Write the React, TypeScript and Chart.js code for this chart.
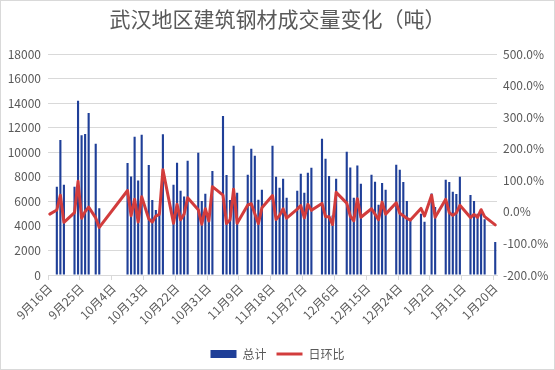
import React, { useEffect, useRef } from 'react';
import { Chart, registerables } from 'chart.js';

Chart.register(...registerables);

const FONT = "'Noto Sans CJK SC', 'Noto Sans', sans-serif";
const TEXT = '#595959';
const GRID = '#D9D9D9';
const BAR_COLOR = '#1F3F98';
const LINE_COLOR = '#D23C3C';

const TITLE = '武汉地区建筑钢材成交量变化（吨）';
const SERIES_TOTAL = '总计';
const SERIES_RATIO = '日环比';

// Date axis: one slot per calendar day, 2019-09-16 .. 2020-01-20
const AXIS_START = { y: 2019, m: 8, d: 16 };
const AXIS_DAYS = 127;
const TICK_EVERY = 9;

// Trading days
const pointDates = [
  '9月16日', '9月18日', '9月19日', '9月20日', '9月23日', '9月24日', '9月25日', '9月26日', '9月27日', '9月29日', '9月30日',
  '10月8日', '10月9日', '10月10日', '10月11日', '10月12日', '10月14日', '10月15日', '10月16日', '10月17日', '10月18日',
  '10月21日', '10月22日', '10月23日', '10月24日', '10月25日', '10月28日', '10月29日', '10月30日', '10月31日', '11月1日',
  '11月4日', '11月5日', '11月6日', '11月7日', '11月8日', '11月11日', '11月12日', '11月13日', '11月14日', '11月15日',
  '11月18日', '11月19日', '11月20日', '11月21日', '11月22日', '11月25日', '11月26日', '11月27日', '11月28日', '11月29日',
  '12月2日', '12月3日', '12月4日', '12月5日', '12月6日', '12月9日', '12月10日', '12月11日', '12月12日', '12月13日',
  '12月16日', '12月17日', '12月18日', '12月19日', '12月20日', '12月23日', '12月24日', '12月25日', '12月26日', '12月27日',
  '12月30日', '12月31日', '1月2日', '1月3日', '1月6日', '1月7日', '1月8日', '1月9日', '1月10日',
  '1月13日', '1月14日', '1月15日', '1月16日', '1月17日', '1月20日',
];

const totals: (number | null)[] = [
  null, 7200, 11000, 7350, 7200, 14200, 11400, 11500, 13200, 10700, 5450,
  9130, 8030, 11280, 7700, 11430, 8970, 6120, 5300, 4900, 11480,
  7350, 9150, 6860, 6400, 9310, 9970, 6040, 6620, 4700, 8480,
  12970, 8160, 6120, 10540, 6700, 8170, 10290, 9720, 6130, 6940,
  10540, 8000, 7120, 7840, 6290, 6860, 8250, 6700, 8330, 8740,
  11100, 9470, 8080, 4850, 7850, 10050, 8760, 6300, 8920, 7440,
  8170, 7610, 5720, 7500, 6950, 8980, 8580, 7590, 6040, 4490,
  5000, 4340, 6650, 5550, 7760, 7590, 6780, 6610, 8000,
  6530, 6040, 5000, 5350, 4550, 2700,
];

const ratios: number[] = [
  -7, 6, 53, -33, -2, 97, -20, 1, 15, -19, -49,
  68, -12, 40, -32, 48, -22, -32, -13, -8, 134,
  -36, 24, -25, -7, 45, 7, -39, 10, -29, 80,
  53, -37, -25, 72, -36, 22, 26, -6, -37, 13,
  52, -24, -11, 10, -20, 9, 20, -19, 24, 5,
  27, -15, -15, -40, 62, 28, -13, -28, 42, -17,
  10, -7, -25, 31, -7, 29, -4, -12, -20, -26,
  11, -13, 53, -17, 40, -2, -11, -3, 21,
  -18, -8, -17, 7, -15, -41,
];

const LEFT_MIN = 0;
const LEFT_MAX = 18000;
const LEFT_STEP = 2000;
const RIGHT_MIN = -200;
const RIGHT_MAX = 500;
const RIGHT_STEP = 100;

function dayLabel(i: number): string {
  const t = Date.UTC(AXIS_START.y, AXIS_START.m, AXIS_START.d) + i * 86400000;
  const d = new Date(t);
  return `${d.getUTCMonth() + 1}月${d.getUTCDate()}日`;
}

const framePlugin = {
  id: 'frame',
  beforeDraw(chart: any) {
    const { ctx, width, height } = chart;
    ctx.save();
    ctx.fillStyle = '#ffffff';
    ctx.fillRect(0, 0, width, height);
    ctx.restore();
  },
  afterDraw(chart: any) {
    const { ctx, width, height } = chart;
    ctx.save();
    ctx.strokeStyle = GRID;
    ctx.lineWidth = 1;
    ctx.strokeRect(0.5, 0.5, width - 1, height - 1);
    ctx.restore();
  },
};

export default function App() {
  const ref = useRef<HTMLCanvasElement>(null);

  useEffect(() => {
    if (!ref.current) return;
    const labels = Array.from({ length: AXIS_DAYS }, (_, i) => dayLabel(i));
    const totalByDay = labels.map((l) => {
      const k = pointDates.indexOf(l);
      return k >= 0 ? totals[k] : null;
    });
    const ratioByDay = labels.map((l) => {
      const k = pointDates.indexOf(l);
      return k >= 0 ? ratios[k] : null;
    });

    const chart = new Chart(ref.current, {
      type: 'bar',
      data: {
        labels,
        datasets: [
          {
            type: 'bar',
            label: SERIES_TOTAL,
            data: totalByDay,
            backgroundColor: BAR_COLOR,
            borderWidth: 0,
            barPercentage: 0.6,
            categoryPercentage: 1,
            yAxisID: 'y',
            order: 2,
            pointStyle: 'rect',
          } as any,
          {
            type: 'line',
            label: SERIES_RATIO,
            data: ratioByDay,
            borderColor: LINE_COLOR,
            backgroundColor: LINE_COLOR,
            borderWidth: 3,
            pointRadius: 0,
            pointHoverRadius: 0,
            spanGaps: true,
            tension: 0,
            borderJoinStyle: 'round',
            borderCapStyle: 'round',
            yAxisID: 'y1',
            order: 1,
            pointStyle: 'line',
          } as any,
        ],
      },
      options: {
        animation: false,
        responsive: false,
        devicePixelRatio: 1,
        layout: { padding: { left: 0, right: 0, top: 0, bottom: 0 } },
        font: { family: FONT },
        plugins: {
          title: {
            display: true,
            text: TITLE,
            color: TEXT,
            font: { family: FONT, size: 21, weight: 'normal' },
            padding: { top: 6, bottom: 23 },
          },
          legend: {
            position: 'bottom',
            labels: {
              usePointStyle: true,
              pointStyleWidth: 26,
              boxHeight: 8,
              color: TEXT,
              font: { family: FONT, size: 12 },
              padding: 10,
              sort: (a: any, b: any) => a.datasetIndex - b.datasetIndex,
            },
          },
          tooltip: { enabled: false },
        },
        scales: {
          x: {
            type: 'category',
            offset: true,
            grid: {
              offset: true,
              drawOnChartArea: false,
              drawTicks: true,
              tickLength: 5,
              color: (c: any) => (c.index % TICK_EVERY === 0 && c.index < AXIS_DAYS ? GRID : 'rgba(0,0,0,0)'),
            },
            border: { color: GRID },
            ticks: {
              autoSkip: false,
              minRotation: 45,
              maxRotation: 45,
              color: TEXT,
              padding: 1,
              font: { family: FONT, size: 12 },
              callback: function (this: any, v: any, i: number) {
                return i % TICK_EVERY === 0 ? this.getLabelForValue(v) : '';
              },
            },
            afterFit: (s: any) => {
              s.height = 63;
            },
          },
          y: {
            position: 'left',
            min: LEFT_MIN,
            max: LEFT_MAX,
            ticks: {
              stepSize: LEFT_STEP,
              color: TEXT,
              padding: 7,
              font: { family: FONT, size: 12 },
              callback: (v: any) => String(v),
            },
            grid: { color: GRID, drawTicks: false },
            border: { display: false },
            afterFit: (s: any) => {
              s.width = 48;
            },
          },
          y1: {
            position: 'right',
            min: RIGHT_MIN,
            max: RIGHT_MAX,
            ticks: {
              stepSize: RIGHT_STEP,
              color: TEXT,
              padding: 6,
              font: { family: FONT, size: 12 },
              callback: (v: any) => `${Number(v).toFixed(1)}%`,
            },
            grid: { drawOnChartArea: false, drawTicks: false },
            border: { display: false },
            afterFit: (s: any) => {
              s.width = 58;
            },
          },
        },
      } as any,
      plugins: [framePlugin],
    });

    return () => chart.destroy();
  }, []);

  return (
    <div style={{ width: 555, height: 370 }}>
      <style>{'body{margin:0}'}</style>
      <canvas ref={ref} width={555} height={370} style={{ display: 'block' }} />
    </div>
  );
}
